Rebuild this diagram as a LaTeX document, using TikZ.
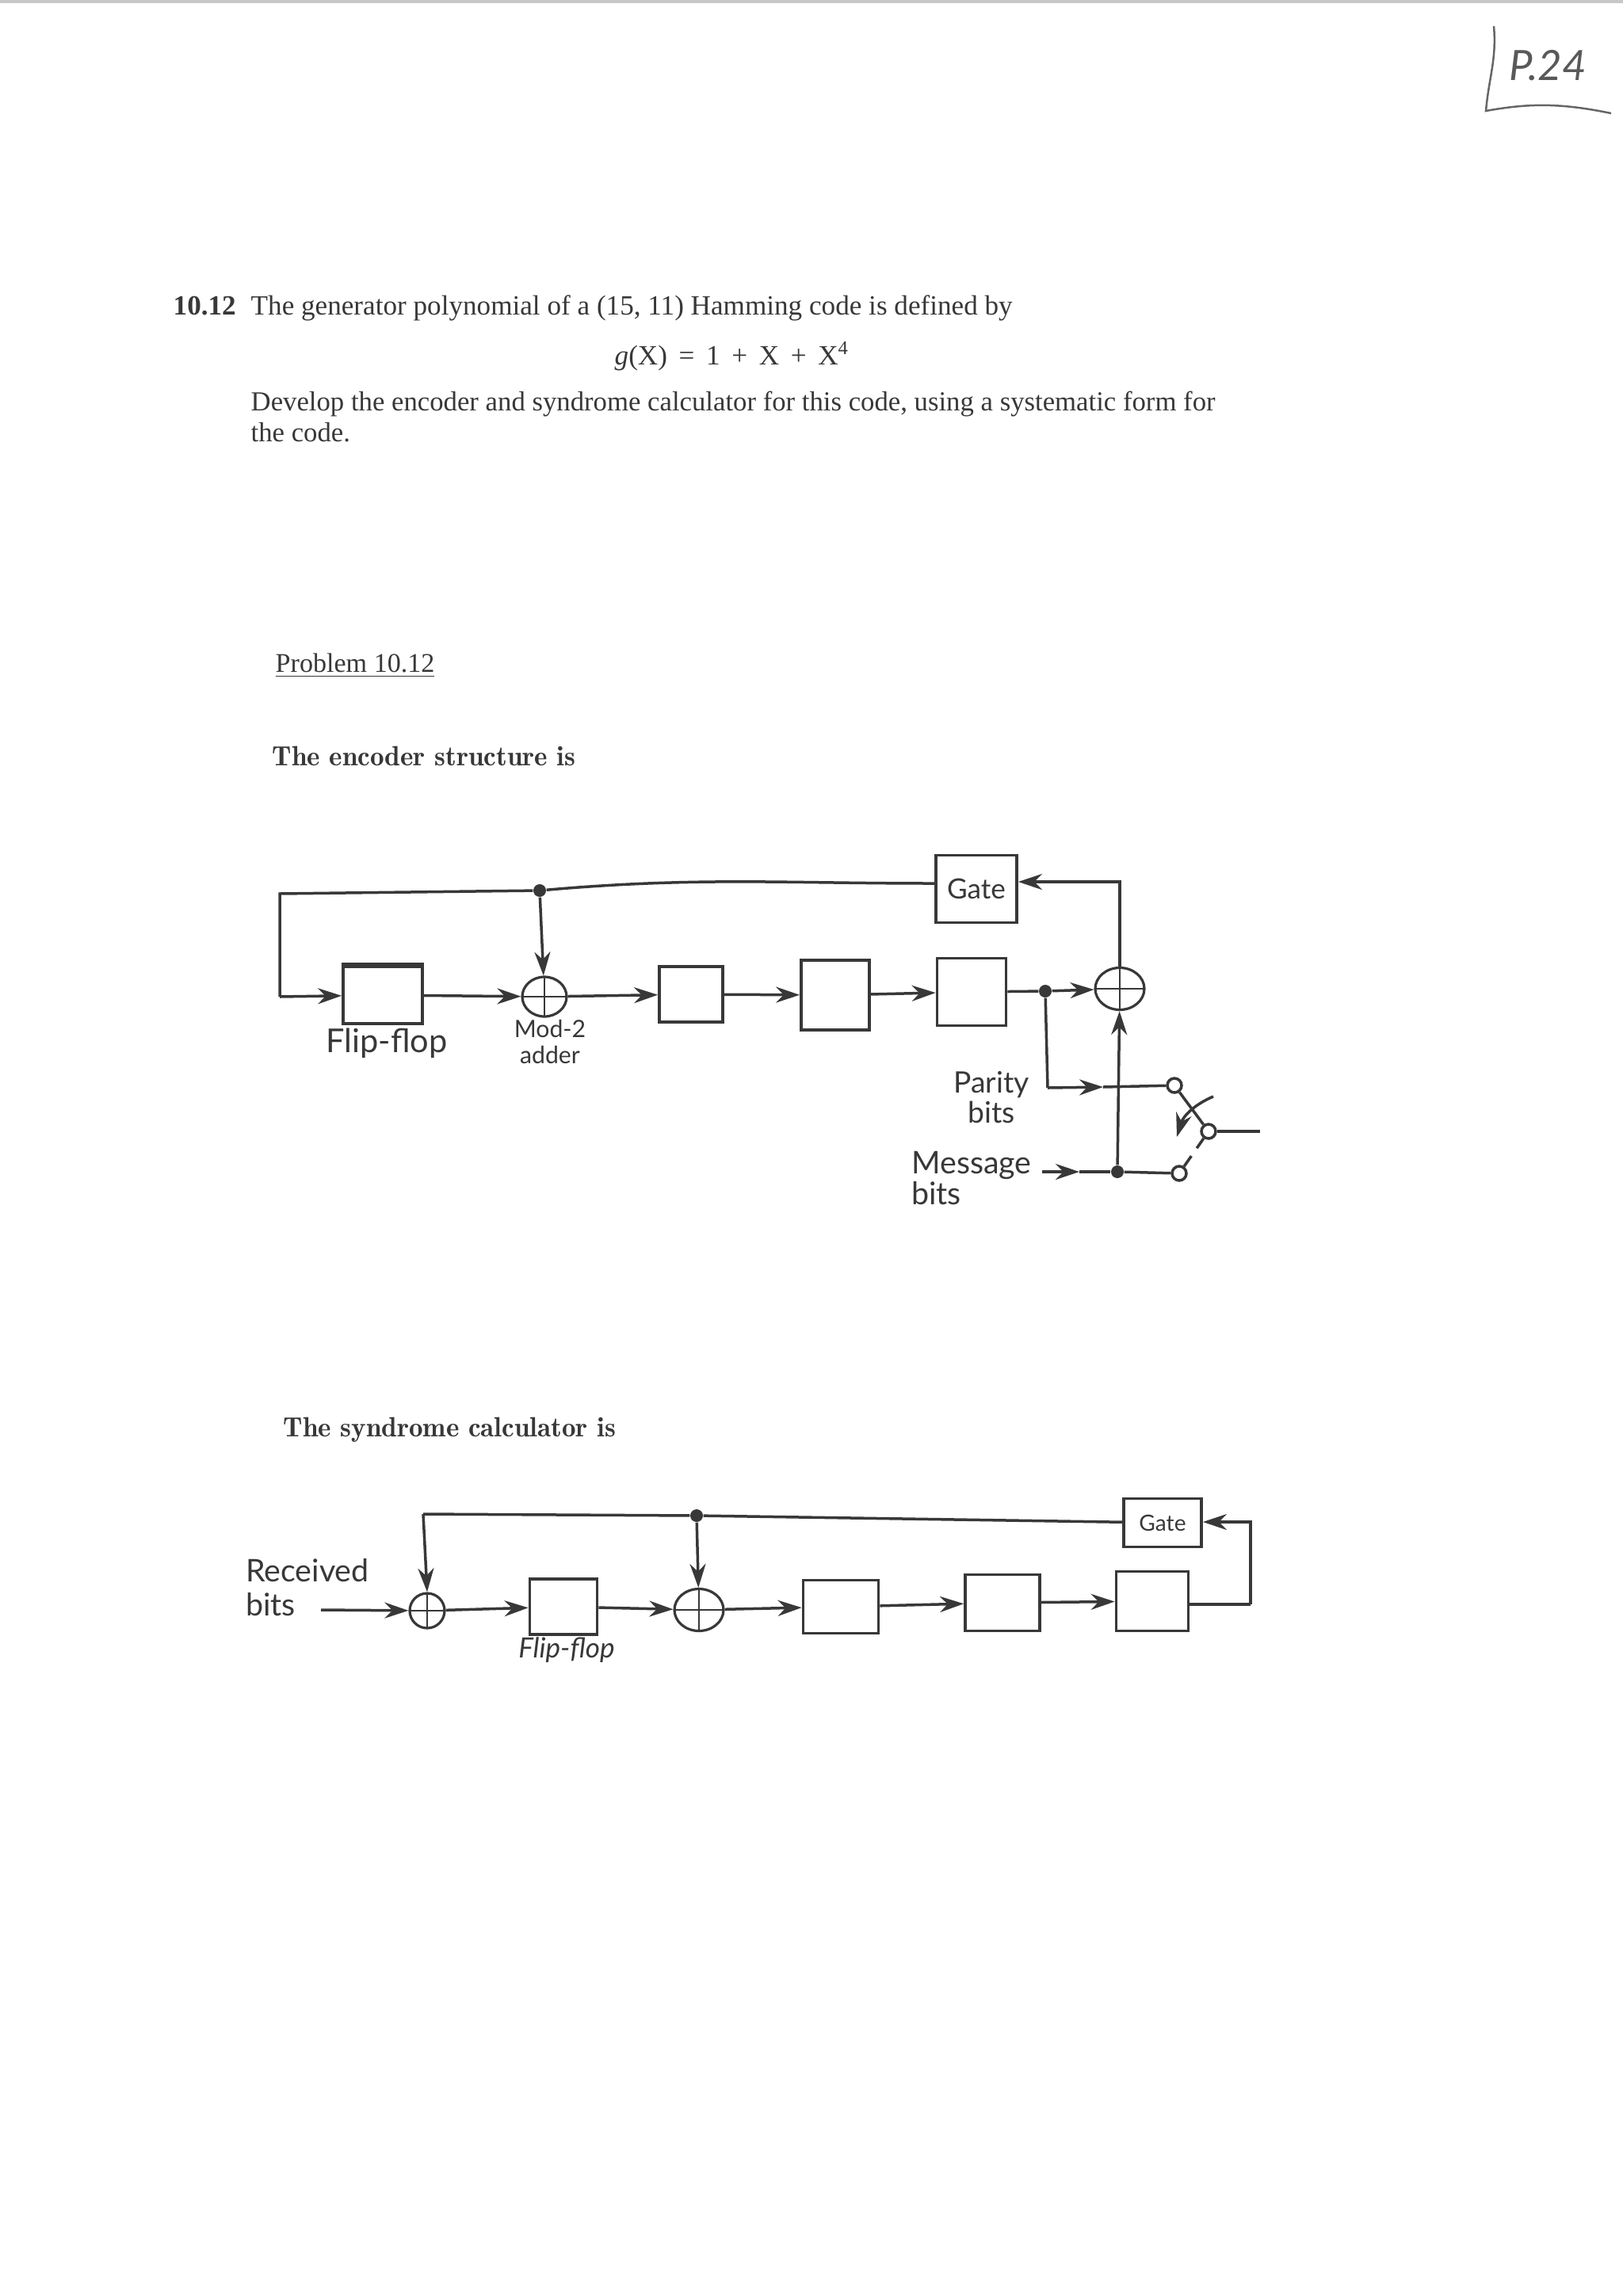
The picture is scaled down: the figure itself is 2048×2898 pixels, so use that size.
\documentclass[tikz,border=0pt]{standalone}
\usepackage{fontspec}
\setmainfont{Liberation Serif}
\newfontfamily\demifont{Latin Modern Roman Demi}
\newfontfamily\handfont{Lato}
\usetikzlibrary{arrows.meta,positioning,calc,shapes.geometric}
\definecolor{ink}{gray}{0.22}
\begin{document}
\begin{tikzpicture}[
    x=0.1mm, y=-0.1mm,
    color=ink,
    printed/.style={anchor=base west, inner sep=0pt, text=ink, font=\fontsize{#1}{11pt}\selectfont},
    heading/.style={anchor=base west, inner sep=0pt, text=ink, font=\fontsize{10pt}{11pt}\demifont},
    hand/.style={inner sep=0pt, align=center, text=ink, font=\fontsize{#1}{#1}\handfont},
    reg/.style 2 args={draw=ink, line width=0.38mm, minimum width=#1, minimum height=#2, inner sep=0pt},
    adder/.style 2 args={draw=ink, line width=0.32mm, ellipse, inner sep=0pt, minimum width=#1, minimum height=#2,
        path picture={\draw[line width=0.28mm] (path picture bounding box.north) -- (path picture bounding box.south)
            (path picture bounding box.west) -- (path picture bounding box.east);}},
    junction/.style={circle, fill=ink, inner sep=0pt, minimum size=1.6mm},
    contact/.style={circle, draw=ink, fill=white, line width=0.35mm, inner sep=0pt, minimum size=1.8mm},
    wire/.style={line width=0.35mm, draw=ink},
    sig/.style={wire, -{Stealth[length=3mm, width=2mm]}},
]
\useasboundingbox (0,0) rectangle (2048,2898);
\fill[black!22] (0,0) rectangle (2048,4);

% page text
\node[printed=10pt] (num) at (218,397) {\textbf{10.12}};
\node[printed=10pt] (stmt) at (316,397) {The generator polynomial of a (15, 11) Hamming code is defined by};
\node[printed=10pt] (poly) at (775,460) {\textit{g}(X) \,=\, 1 \,+\, X \,+\, X\textsuperscript{4}};
\node[printed=9.88pt] (dev1) at (316,518) {Develop the encoder and syndrome calculator for this code, using a systematic form for};
\node[printed=9.88pt] (dev2) at (316,557) {the code.};
\node[printed=9.7pt] (prob) at (347,848) {\underline{Problem 10.12}};
\node[heading] (enc) at (343,966) {The encoder structure is};
\node[heading] (syn) at (357,1813) {The syndrome calculator is};

% page mark
\node[hand=15pt, text=black!65] (page) at (1953,83) {\itshape P.24};
\coordinate (marktop) at (1885,33);
\coordinate (markcnr) at (1875,140);
\coordinate (markend) at (2033,143);
\draw[line width=0.25mm, draw=black!60] (marktop) to[out=-85,in=85] (markcnr)
    .. controls (1930,130) and (1970,130) .. (markend);

% encoder
\node[reg={10mm}{7.2mm}] (ffa) at (483,1256) {};
\draw[line width=0.7mm] (ffa.north west) -- (ffa.north east);
\node[adder={5.6mm}{5mm}] (adda) at (687,1258) {};
\node[reg={8mm}{7mm}] (ffb) at (872,1255) {};
\node[reg={8.6mm}{8.8mm}] (ffc) at (1054,1256) {};
\node[reg={8.7mm}{8.5mm}] (ffd) at (1226,1252) {};
\node[reg={10.2mm}{8.5mm}] (gatea) at (1232,1122) {};
\node[hand=10pt] (gatealbl) at (gatea) {Gate};
\node[adder={6.2mm}{5.3mm}] (addb) at (1413,1248) {};
\node[junction] (topa) at (681,1124) {};
\node[junction] (tapa) at (1319,1251) {};
\node[junction] (msga) at (1410,1479) {};
\node[contact] (swp) at (1482,1370) {};
\node[contact] (swm) at (1488,1481) {};
\node[contact] (swo) at (1525,1428) {};
\coordinate (fbtop) at (353,1128);
\coordinate (fbbot) at (353,1258);
\coordinate (parcnr) at (1322,1373);
\coordinate (parmid) at (1392,1372);
\coordinate (msgin) at (1315,1479);
\coordinate (msgmid) at (1362,1479);
\coordinate (outend) at (1590,1428);
\coordinate (swfrom) at (1531,1384);
\coordinate (swto) at (1485,1435);
\draw[wire] (topa) -- (fbtop) -- (fbbot);
\draw[sig] (fbbot) -- (ffa);
\draw[sig] (topa) -- (adda);
\draw[wire] (topa) to[out=5,in=180] ([yshift=0.7mm]gatea.west);
\draw[sig] (ffa) -- (adda);
\draw[sig] (adda) -- (ffb);
\draw[sig] (ffb) -- (ffc);
\draw[sig] (ffc) -- (ffd);
\draw[wire] (ffd) -- (tapa);
\draw[sig] (tapa) -- (addb);
\draw[sig] (addb.north) |- ([yshift=0.9mm]gatea.east);
\draw[sig] (msga) -- (addb);
\draw[wire] (tapa) -- (parcnr);
\draw[sig] (parcnr) -- (parmid);
\draw[wire] (parmid) -- (swp);
\draw[sig] (msgin) -- (msgmid);
\draw[wire] (msgmid) -- (msga);
\draw[wire] (msga) -- (swm);
\draw[wire] (swp) -- (swo);
\draw[wire, dash pattern=on 1.6mm off 1.2mm] (swm) -- (swo);
\draw[wire] (swo) -- (outend);
\draw[sig] (swfrom) to[bend right=25] (swto);
\node[hand=11.8pt] (ffalbl) at (488,1317) {Flip-flop};
\node[hand=8.6pt] (addlbl) at (694,1315) {Mod-2\\[1pt]adder};
\node[hand=10.6pt] (parlbl) at (1251,1385) {Parity\\bits};
\node[hand=11.2pt, align=left] (msglbl) at (1226,1487) {Message\\bits};

% syndrome calculator
\node[adder={4.4mm}{4.4mm}] (addc) at (539,2033) {};
\node[reg={8.5mm}{7mm}] (ffe) at (711,2028) {};
\node[adder={6.2mm}{5.3mm}] (addd) at (882,2032) {};
\node[reg={9.5mm}{6.7mm}] (fff) at (1061,2028) {};
\node[reg={9.4mm}{7.1mm}] (ffg) at (1265,2023) {};
\node[reg={9.1mm}{7.5mm}] (ffh) at (1454,2021) {};
\node[reg={9.8mm}{6.1mm}] (gateb) at (1467,1922) {};
\node[hand=8pt] (gateblbl) at (gateb) {Gate};
\node[junction] (topb) at (879,1913) {};
\coordinate (rbstart) at (405,2032);
\coordinate (fbleft) at (534,1911);
\coordinate (fbright) at (1578,2025);
\coordinate (fbup) at (1578,1921);
\draw[sig] (rbstart) -- (addc);
\draw[sig] (addc) -- (ffe);
\draw[sig] (ffe) -- (addd);
\draw[sig] (addd) -- (fff);
\draw[sig] (fff) -- (ffg);
\draw[sig] (ffg) -- (ffh);
\draw[wire] (topb) -- (fbleft);
\draw[sig] (fbleft) -- (addc.north);
\draw[sig] (topb) -- (addd);
\draw[wire] (topb) -- (gateb);
\draw[wire] (ffh.east |- fbright) -- (fbright);
\draw[sig] (fbright) -- (fbup) -- (gateb.east |- fbup);
\node[hand=11.2pt, align=left] (rblbl) at (388,2004) {Received\\[1pt]bits};
\node[hand=10pt] (ffelbl) at (715,2083) {\itshape Flip-flop};
\end{tikzpicture}
\end{document}
